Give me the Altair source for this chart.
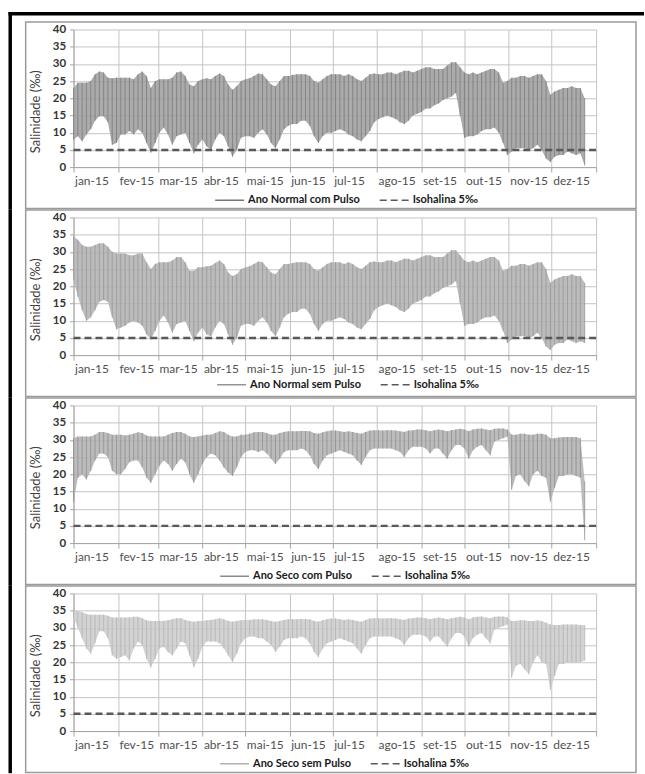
import altair as alt
import pandas as pd

# ---------------- data ----------------
DAYS = list(range(0, 358, 3))  # day of year 2015, every 3 days
MONTH_DAYS = [0, 31, 59, 90, 120, 151, 181, 212, 243, 273, 304, 334, 365]
MONTH_LABELS = ["jan-15", "fev-15", "mar-15", "abr-15", "mai-15", "jun-15",
                "jul-15", "ago-15", "set-15", "out-15", "nov-15", "dez-15", ""]
Y_TICKS = [0, 5, 10, 15, 20, 25, 30, 35, 40]
ISO_VALUE = 5
ISO_LABEL = "Isohalina 5‰"
SERIES = ["Ano Normal com Pulso", "Ano Normal sem Pulso",
          "Ano Seco com Pulso", "Ano Seco sem Pulso"]

N_COM_LO = [8, 9, 7.5, 9.5, 11, 13.5, 14.8, 14.8, 13, 6.5,
            7, 9.5, 9.5, 10.5, 9.5, 11, 10, 7, 4.2, 7,
            10, 11.5, 9.5, 6.5, 9, 9.5, 10, 7, 4, 6.5,
            8, 6, 5, 8, 10, 9, 6, 3, 5, 8.5,
            9, 9, 8.5, 10, 11, 9.5, 7, 5.5, 8, 11,
            12, 12.5, 12.5, 13.5, 13.5, 12, 9, 7, 9, 10,
            10, 10.5, 11, 10.5, 9.5, 9, 8, 7.5, 9, 10.5,
            13, 14, 14.5, 15, 14.5, 14, 13, 12.5, 13.5, 15,
            15.5, 16, 17, 17, 18, 18.5, 19.5, 20, 20.5, 21.5,
            15, 8.5, 9, 9, 9.5, 10.5, 11, 11, 11.5, 10,
            7, 3.5, 4.5, 5.5, 5.5, 5.5, 5, 5.5, 6.5, 5,
            2.5, 1.5, 3, 3.5, 3.5, 4.5, 4, 3.5, 4, 0.5]
N_COM_HI = [23, 24.5, 24.5, 24.5, 25, 27, 27.8, 27.5, 26, 25.8,
            26, 26, 26, 26, 25.5, 27, 27.8, 26.5, 23, 25,
            25.5, 25.5, 25.5, 26, 27.5, 27.8, 26.5, 24, 23.5, 25,
            25.5, 25.8, 25.5, 26.5, 27.2, 26.5, 24, 22.5, 23.5, 25,
            25.5, 25.8, 26.5, 27.2, 27, 25.5, 24, 23.5, 25, 26.5,
            26.5, 26.8, 27, 27, 27, 26.5, 25, 24.5, 25.5, 26.5,
            27, 27, 27, 26.5, 27, 26.5, 25.5, 25, 26, 27,
            27.2, 27, 27, 27.5, 27.5, 27, 27.5, 28, 28, 27.5,
            28, 28.5, 29, 29, 28.5, 28.5, 28.5, 29.5, 30.5, 30.5,
            29, 27.5, 27, 27.5, 27, 27.5, 28, 28.5, 28.5, 27.5,
            24.5, 25, 26, 26, 26.5, 26.5, 26, 26.5, 27, 27,
            25, 21, 22, 22.5, 23, 23, 23.5, 23, 23, 20]

N_SEM_LO = [22, 17, 13, 10, 11, 13, 15.5, 16, 15.5, 11,
            7.5, 8, 8.5, 9.5, 10, 9.5, 8.5, 6, 4.5, 7,
            10, 11.5, 9.5, 6.5, 9, 9.5, 10, 7, 4, 6.5,
            8, 6, 5.5, 8, 10, 9, 6, 3, 5, 8.5,
            9, 9, 8.5, 10, 11, 9.5, 7, 5.5, 8, 11,
            12, 12.5, 12.5, 13.5, 13.5, 12, 9, 7, 9, 10,
            10, 10.5, 11, 10.5, 9.5, 9, 8, 7.5, 9, 10.5,
            13, 14, 14.5, 15, 14.5, 14, 13, 12.5, 13.5, 15,
            15.5, 16, 17, 17, 18, 18.5, 19.5, 20, 20.5, 21.5,
            15, 8.5, 9, 9, 9.5, 10.5, 11, 11, 11.5, 10,
            7, 3.5, 4.5, 5.5, 5.5, 5.5, 5, 5.5, 6.5, 5,
            2.5, 1.5, 3, 3.5, 3.5, 4.5, 4, 3.5, 4, 3.5]
N_SEM_HI = [34.5, 33.5, 32, 31.5, 31.5, 32, 32.5, 32.5, 31.5, 30,
            29.5, 29.5, 29.5, 29, 29, 29.5, 29.5, 27, 25, 26.5,
            27, 27, 27, 27.5, 28.5, 28.5, 27, 24.5, 24.5, 25.5,
            25.5, 25.8, 26, 26.8, 27.5, 26.5, 24, 23, 23.5, 25,
            25.5, 25.8, 26.5, 27.2, 27, 25.5, 24, 23.5, 25, 26.5,
            26.5, 26.8, 27, 27, 27, 26.5, 25, 24.5, 25.5, 26.5,
            27, 27, 27, 26.5, 27, 26.5, 25.5, 25, 26, 27,
            27.2, 27, 27, 27.5, 27.5, 27, 27.5, 28, 28, 27.5,
            28, 28.5, 29, 29, 28.5, 28.5, 28.5, 29.5, 30.5, 30.5,
            29, 27.5, 27, 27.5, 27, 27.5, 28, 28.5, 28.5, 27.5,
            24.5, 25, 26, 26, 26.5, 26.5, 26, 26.5, 27, 27,
            25, 21, 22, 22.5, 23, 23, 23.5, 23, 23, 21]

S_COM_LO = [12, 19, 20, 18.5, 21, 24, 26, 26, 25, 21,
            20, 20, 21.5, 23.5, 24, 24, 22, 19, 17.5, 20,
            22.5, 24, 23, 21, 23, 24.5, 23.5, 20, 17.5, 20,
            23, 25, 26, 25.5, 24, 22, 20.5, 19.5, 22, 25,
            26.5, 27, 27, 26.5, 27, 26, 24.5, 23, 24.5, 26.5,
            27, 27, 27, 27.5, 27, 25.5, 23, 21.5, 24, 25.5,
            26, 26.5, 27, 26.5, 26, 25.5, 24, 22.7, 25, 27,
            27.5, 27.5, 27.5, 27.5, 27.5, 27, 26.5, 25, 27, 28,
            28, 28, 27.5, 26, 27.5, 27.5, 26, 24.5, 27, 28.5,
            28.5, 27.5, 24.5, 27, 28, 28.5, 27, 25.5, 29.5, 30,
            30.5, 31, 15.5, 19.5, 20, 18, 16.5, 20, 21, 19.5,
            19, 12, 16, 19.5, 19.5, 20, 20, 19.5, 19, 0.8]
S_COM_HI = [30.5, 31, 31, 31, 31, 31.5, 32.3, 32.3, 32, 31.5,
            31.5, 31.5, 31.3, 31.5, 31.8, 32.2, 32, 31.3, 31, 31,
            31, 31, 31.5, 32, 32.3, 32.3, 31.8, 31, 30.8, 31,
            31.3, 31.5, 31.5, 32, 32.5, 32.3, 31.5, 31, 31, 31.5,
            31.5, 31.8, 32.2, 32.3, 32.3, 32, 31.5, 31.5, 32, 32.3,
            32.5, 32.5, 32.5, 32.6, 32.6, 32.5, 32, 31.8, 32.2, 32.5,
            32.7, 32.7, 32.5, 32.3, 32.5, 32.3, 32, 31.8, 32.3, 32.7,
            32.8, 32.8, 32.7, 32.8, 32.8, 32.7, 32.5, 32.3, 32.7, 32.8,
            33, 33, 32.8, 32.5, 32.8, 33, 32.8, 32.5, 32.8, 33,
            33.2, 33, 32.5, 33, 33.2, 33.3, 33, 32.8, 33.2, 33.3,
            33.3, 33, 31.5, 31.5, 31.8, 31.8, 31.5, 31.5, 31.8, 31.8,
            31.5, 30.5, 30.5, 30.7, 30.8, 30.8, 30.8, 30.8, 30.5, 18]

S_SEM_LO = [33, 30, 27, 24, 22.5, 25.5, 29, 29, 27, 22,
            21, 21.5, 22, 20.5, 24, 26, 25, 21, 18.5, 21,
            24, 24.5, 23, 22, 24, 26, 25.5, 22, 18.5, 21,
            24.5, 26, 26, 26, 25.5, 24, 22, 20, 22.5, 25.5,
            27, 27.5, 27.5, 27, 27, 26, 25, 23, 24.5, 26.5,
            27, 27, 27, 27.5, 27, 25.5, 23, 21.5, 24, 25.5,
            26, 26.5, 27, 26.5, 26, 25.5, 24, 22.5, 25, 27,
            27.5, 27.5, 27.5, 27.5, 27.5, 27, 26.5, 25, 27, 28,
            28, 28, 27.5, 26, 27.5, 27.5, 26, 24.5, 27, 28.5,
            28.5, 27.5, 24.5, 27, 28, 28.5, 27, 25.5, 29.5, 30,
            30.5, 31, 15.5, 19, 19.5, 18, 16.5, 20, 22, 20,
            19.5, 12, 16, 19.5, 19.5, 20, 20, 20, 20, 20.5]
S_SEM_HI = [35, 34.8, 34.5, 34, 33.8, 33.8, 33.8, 33.8, 33.5, 33,
            33, 33, 33, 33, 33.2, 33.2, 32.8, 32.2, 32, 32,
            32, 32, 32.2, 32.5, 32.8, 32.8, 32.3, 32, 31.8, 32,
            32, 32.2, 32.3, 32.5, 32.8, 32.5, 32, 31.8, 32, 32.2,
            32.3, 32.3, 32.5, 32.5, 32.5, 32.3, 32, 31.8, 32, 32.3,
            32.5, 32.5, 32.5, 32.6, 32.6, 32.5, 32, 31.8, 32.2, 32.5,
            32.7, 32.7, 32.5, 32.3, 32.5, 32.3, 32, 31.8, 32.3, 32.7,
            32.8, 32.8, 32.7, 32.8, 32.8, 32.7, 32.5, 32.3, 32.7, 32.8,
            33, 33, 32.8, 32.5, 32.8, 33, 32.8, 32.5, 32.8, 33,
            33.2, 33, 32.5, 33, 33.2, 33.3, 33, 32.8, 33.2, 33.3,
            33.3, 33, 32, 32, 32.2, 32.2, 32, 32, 32.2, 32,
            31.5, 31, 30.8, 30.8, 31, 31, 31, 31, 30.8, 30.8]

# ---------------- chart ----------------
W, H = 524, 138
FONT = "Lato"
LABEL_EXPR = ("[" + ",".join("'%s'" % s for s in MONTH_LABELS) + "][indexof(["
              + ",".join(str(d) for d in MONTH_DAYS) + "], datum.value)]")


def deco(mark, **enc):
    return alt.Chart(pd.DataFrame({"k": [0]})).mark_rect(**mark).encode(**enc)


def panel(name, lo, hi, fill, line, legend_x, legend_y, first=False):
    df = pd.DataFrame({"dia": DAYS, "min": lo, "max": hi, "serie": name})
    iso = pd.DataFrame({"min": [ISO_VALUE], "serie": [ISO_LABEL]})

    x = alt.X("dia:Q",
              scale=alt.Scale(domain=[0, 365], nice=False, zero=False),
              axis=alt.Axis(values=MONTH_DAYS, labelExpr=LABEL_EXPR, title=None,
                            grid=True, gridColor="#c4c4c4", tickSize=5,
                            tickColor="#a6a6a6", domainColor="#a6a6a6",
                            labelAlign="left", labelOffset=1, labelPadding=3,
                            labelFont=FONT, labelFontSize=12, labelColor="#505050",
                            labelFlush=False, labelOverlap=False))
    y = alt.Y("min:Q",
              scale=alt.Scale(domain=[0, 40], nice=False),
              axis=alt.Axis(values=Y_TICKS, title="Salinidade (‰)",
                            titleFont=FONT, titleFontSize=13, titleFontWeight="normal",
                            titleColor="#404040", titleAngle=270, titleX=-38, titleY=82,
                            titleAlign="center", titleBaseline="middle",
                            labelFont=FONT, labelFontWeight="bold", labelFontSize=11.5,
                            labelColor="#333333", tickSize=4, tickColor="#a6a6a6",
                            domainColor="#a6a6a6", labelPadding=4,
                            grid=True, gridColor="#c4c4c4"))
    leg = alt.Legend(orient="none", legendX=legend_x, legendY=legend_y, direction="horizontal",
                     title=None, symbolType="stroke", symbolSize=841,
                     symbolStrokeWidth=1.6, labelFont=FONT, labelFontSize=11,
                     labelFontWeight="bold", labelColor="#1a1a1a", labelOffset=3,
                     columnPadding=15, labelLimit=300)
    color = alt.Color("serie:N",
                      scale=alt.Scale(domain=[name, ISO_LABEL], range=[line, "#595959"]),
                      legend=leg)
    dash = alt.StrokeDash("serie:N",
                          scale=alt.Scale(domain=[name, ISO_LABEL], range=[[1, 0], [7, 4]]),
                          legend=leg)

    area = alt.Chart(df).mark_area(color=fill, opacity=0.85).encode(x=x, y=y, y2="max:Q")
    rules = alt.Chart(df).mark_rule(strokeWidth=0.8).encode(
        x=x, y=y, y2="max:Q", color=color, strokeDash=dash)
    iso_line = alt.Chart(iso).mark_rule(strokeWidth=2.5).encode(
        y=y, color=color, strokeDash=dash)

    frame = deco(dict(fillOpacity=0, stroke="#9a9a9a", strokeWidth=1.5),
                 x=alt.value(-48), x2=alt.value(W + 40), y=alt.value(-7.5), y2=alt.value(179.5))
    top_left = -17.5 if first else -8.25
    left_bar = deco(dict(color="black"),
                    x=alt.value(-65.25), x2=alt.value(-61.75),
                    y=alt.value(top_left), y2=alt.value(180.25))
    layers = [area, rules, iso_line, frame, left_bar]
    if first:
        layers.append(deco(dict(color="black"),
                           x=alt.value(-65.25), x2=alt.value(W + 48),
                           y=alt.value(-17.5), y2=alt.value(-14)))
    return alt.layer(*layers).properties(width=W, height=H)


p1 = panel(SERIES[0], N_COM_LO, N_COM_HI, "#9c9c9c", "#767676", 141, 155.5, first=True)
p2 = panel(SERIES[1], N_SEM_LO, N_SEM_HI, "#b0b0b0", "#939393", 143, 152)
p3 = panel(SERIES[2], S_COM_LO, S_COM_HI, "#b0b0b0", "#8a8a8a", 146, 155.5)
p4 = panel(SERIES[3], S_SEM_LO, S_SEM_HI, "#cbcbcb", "#b0b0b0", 146, 155)

chart = alt.vconcat(p1, p2, p3, p4, spacing=50.5, bounds="flush").resolve_scale(
    color="independent", strokeDash="independent"
).resolve_legend(
    color="independent", strokeDash="independent"
).properties(
    padding={"left": 7.75, "top": 10.5, "right": 0, "bottom": 0},
    background="white",
).configure_view(stroke="transparent")

chart.save("out.html", embed_options={"renderer": "svg", "actions": False})
